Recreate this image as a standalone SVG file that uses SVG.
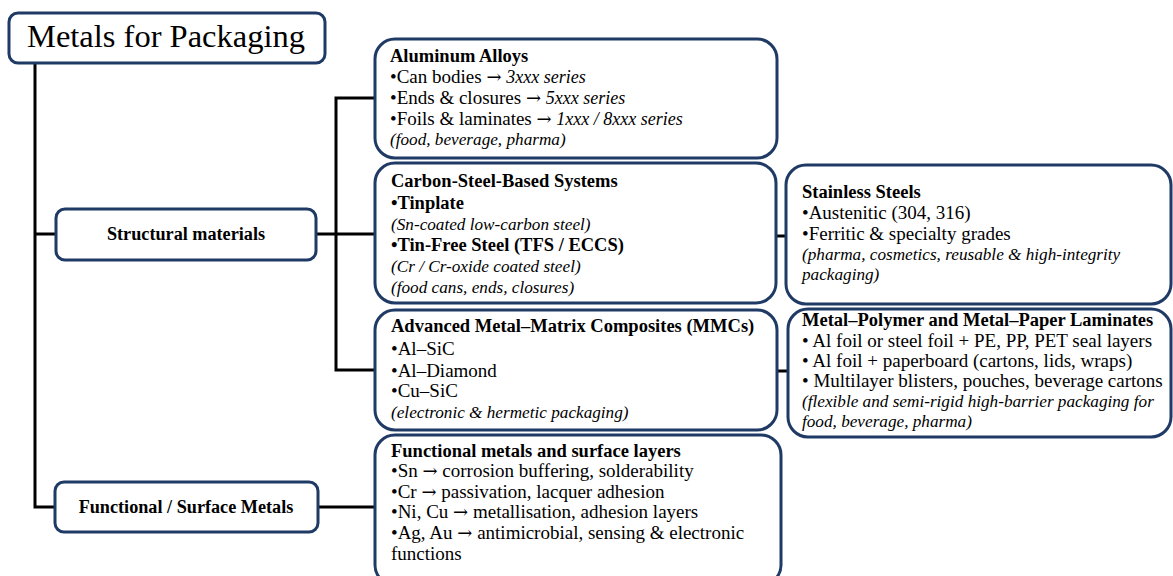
<svg xmlns="http://www.w3.org/2000/svg" width="1173" height="576" viewBox="0 0 1173 576">
  <style>
    .box { fill: #ffffff; stroke: #1f3a64; stroke-width: 3; }
    .wire { fill: none; stroke: #000000; stroke-width: 3; }
    text { font-family: "Liberation Serif", "DejaVu Serif", serif; fill: #000000; }
    .t { font-size: 19px; }
    .i { font-style: italic; font-size: 17.2px; }
    .s { font-style: italic; font-size: 18px; }
    .h { font-size: 18.5px; font-weight: bold; }
    .a { font-family: "DejaVu Serif", serif; font-size: 18px; font-style: normal; }
    .n { font-size: 18.2px; font-weight: bold; }
  </style>
  <rect width="1173" height="576" fill="#ffffff"/>

  <!-- connectors -->
  <g id="connectors">
    <polyline class="wire" points="35,63 35,507 56,507"/>
    <line class="wire" x1="35" y1="234" x2="56" y2="234"/>
    <line class="wire" x1="316" y1="234" x2="376" y2="234"/>
    <polyline class="wire" points="376,98 336,98 336,370 376,370"/>
    <line class="wire" x1="318" y1="507" x2="376" y2="507"/>
    <line class="wire" x1="776" y1="236" x2="786" y2="236"/>
    <line class="wire" x1="777" y1="371" x2="788" y2="371"/>
  </g>

  <!-- root -->
  <g id="root">
    <rect class="box" x="9" y="13" width="316" height="50" rx="9"/>
    <text x="27" y="47" font-size="32.5">Metals for Packaging</text>
  </g>

  <!-- level 1 -->
  <g id="structural">
    <rect class="box" x="56" y="209" width="260" height="51" rx="9"/>
    <text class="n" x="186" y="240" text-anchor="middle">Structural materials</text>
  </g>
  <g id="functional">
    <rect class="box" x="55" y="482" width="263" height="50" rx="9"/>
    <text class="n" x="186" y="513" text-anchor="middle">Functional / Surface Metals</text>
  </g>

  <!-- level 2 -->
  <g id="aluminum">
    <rect class="box" x="375" y="39" width="402" height="119" rx="20"/>
    <text class="h" x="390" y="62">Aluminum Alloys</text>
    <text class="t" x="390" y="83">•Can bodies <tspan class="a">→</tspan> <tspan class="s">3xxx series</tspan></text>
    <text class="t" x="390" y="104">•Ends &amp; closures <tspan class="a">→</tspan> <tspan class="s">5xxx series</tspan></text>
    <text class="t" x="390" y="125">•Foils &amp; laminates <tspan class="a">→</tspan> <tspan class="s">1xxx / 8xxx series</tspan></text>
    <text class="i" x="390" y="145">(food, beverage, pharma)</text>
  </g>

  <g id="carbon-steel">
    <rect class="box" x="375" y="163" width="401" height="140" rx="20"/>
    <text class="h" x="391" y="187">Carbon-Steel-Based Systems</text>
    <text class="h" x="391" y="209">•Tinplate</text>
    <text class="i" x="391" y="230">(Sn-coated low-carbon steel)</text>
    <text class="h" x="391" y="251">•Tin-Free Steel (TFS / ECCS)</text>
    <text class="i" x="391" y="272">(Cr / Cr-oxide coated steel)</text>
    <text class="i" x="391" y="293">(food cans, ends, closures)</text>
  </g>

  <g id="mmc">
    <rect class="box" x="375" y="310" width="402" height="120" rx="20"/>
    <text class="h" x="391" y="332">Advanced Metal–Matrix Composites (MMCs)</text>
    <text class="t" x="391" y="355">•Al–SiC</text>
    <text class="t" x="391" y="377">•Al–Diamond</text>
    <text class="t" x="391" y="397">•Cu–SiC</text>
    <text class="i" x="391" y="418">(electronic &amp; hermetic packaging)</text>
  </g>

  <g id="functional-layers">
    <rect class="box" x="375" y="435" width="406" height="150" rx="20"/>
    <text class="h" x="391" y="457">Functional metals and surface layers</text>
    <text class="t" x="391" y="477">•Sn <tspan class="a">→</tspan> corrosion buffering, solderability</text>
    <text class="t" x="391" y="498">•Cr <tspan class="a">→</tspan> passivation, lacquer adhesion</text>
    <text class="t" x="391" y="518">•Ni, Cu <tspan class="a">→</tspan> metallisation, adhesion layers</text>
    <text class="t" x="391" y="539">•Ag, Au <tspan class="a">→</tspan> antimicrobial, sensing &amp; electronic</text>
    <text class="t" x="391" y="560">functions</text>
  </g>

  <!-- level 3 -->
  <g id="stainless">
    <rect class="box" x="786" y="165" width="385" height="139" rx="20"/>
    <text class="h" x="802" y="198">Stainless Steels</text>
    <text class="t" x="802" y="219">•Austenitic (304, 316)</text>
    <text class="t" x="802" y="240">•Ferritic &amp; specialty grades</text>
    <text class="i" x="802" y="260">(pharma, cosmetics, reusable &amp; high-integrity</text>
    <text class="i" x="802" y="280">packaging)</text>
  </g>

  <g id="laminates">
    <rect class="box" x="788" y="309" width="383" height="128" rx="20"/>
    <text class="h" x="802" y="326">Metal–Polymer and Metal–Paper Laminates</text>
    <text class="t" x="802" y="347">• Al foil or steel foil + PE, PP, PET seal layers</text>
    <text class="t" x="802" y="367">• Al foil + paperboard (cartons, lids, wraps)</text>
    <text class="t" x="802" y="387">• Multilayer blisters, pouches, beverage cartons</text>
    <text class="i" x="802" y="407">(flexible and semi-rigid high-barrier packaging for</text>
    <text class="i" x="802" y="427">food, beverage, pharma)</text>
  </g>
</svg>
